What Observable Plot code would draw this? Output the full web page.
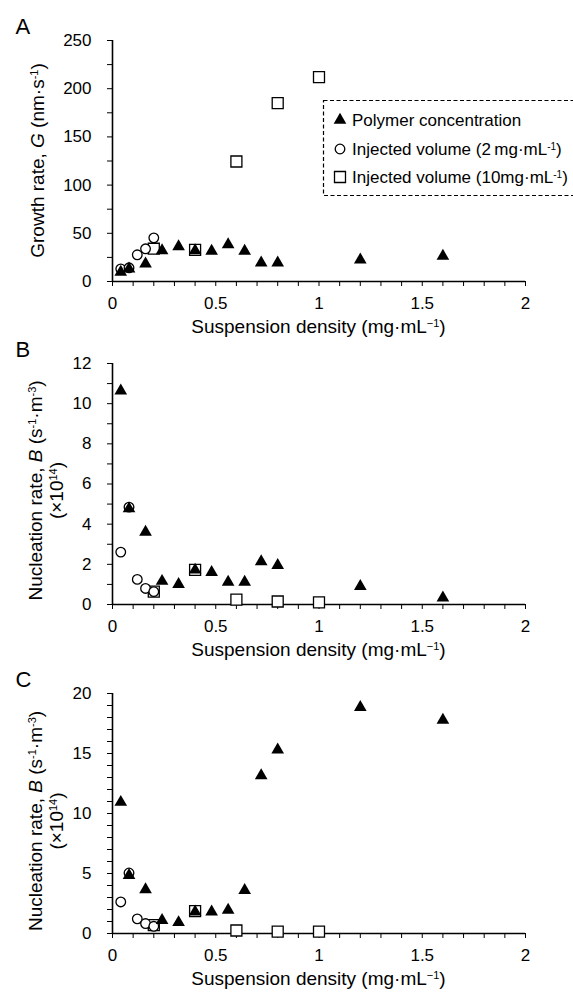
<!DOCTYPE html>
<html><head><meta charset="utf-8">
<script src="https://cdn.jsdelivr.net/npm/d3@7"></script>
<script src="https://cdn.jsdelivr.net/npm/@observablehq/plot@0.6"></script>
<style>
body{margin:0;background:#fff;font-family:"Liberation Sans",Arial,sans-serif;}
#wrap{position:relative;width:573px;height:999px;overflow:hidden;background:#fff;}
#wrap svg{position:absolute;left:0;overflow:visible;}
</style></head><body><div id="wrap"></div>
<script>
// ---------- data ----------
const polymerX   = [0.04, 0.08, 0.16, 0.24, 0.32, 0.4, 0.48, 0.56, 0.64, 0.72, 0.8, 1.2, 1.6];
const injected2X = [0.04, 0.08, 0.12, 0.16, 0.2];
const injected10X = [0.2, 0.4, 0.6, 0.8, 1.0];

const growthPolymer = [9.7, 13.1, 18.3, 32, 36.3, 32, 31.5, 38.4, 31.5, 19.4, 19.4, 22.5, 26.3];
const growthInj2    = [13.1, 14.2, 27.7, 33.9, 45.3];
const growthInj10   = [34, 32.8, 124.5, 185, 212];

const nucBPolymer = [10.64, 4.77, 3.61, 1.16, 1.0, 1.72, 1.6, 1.12, 1.12, 2.14, 1.95, 0.91, 0.33];
const nucBInj2    = [2.61, 4.85, 1.25, 0.8, 0.64];
const nucBInj10   = [0.64, 1.72, 0.24, 0.15, 0.11];

const nucCPolymer = [10.94, 4.85, 3.66, 1.1, 0.92, 1.8, 1.8, 1.96, 3.6, 13.16, 15.3, 18.84, 17.78];
const nucCInj2    = [2.63, 5.04, 1.22, 0.83, 0.6];
const nucCInj10   = [0.7, 1.86, 0.25, 0.15, 0.15];

const xTickLabels = [0, 0.5, 1, 1.5, 2];
const yTickLabelsA = [0, 50, 100, 150, 200, 250];
const yTickLabelsB = [0, 2, 4, 6, 8, 10, 12];
const yTickLabelsC = [0, 5, 10, 15, 20];
const legendLabels = ["Polymer concentration", "Injected volume (2\u2009mg\u00b7mL", "Injected volume (10mg\u00b7mL"];

// ---------- helpers ----------
const FONT = "Liberation Sans, Arial, Helvetica, sans-serif";
const rows = (xs, ys) => xs.map((x, i) => ({x, y: ys[i]}));
const near = (arr, d) => arr.some(v => Math.abs(v - d) < 1e-9);
const xMinor = d3.range(0, 21).map(i => i / 10);

function richText(sel, parts, size) {
  parts.forEach(p => {
    const t = sel.append("tspan").text(p.t);
    if (p.i) t.attr("font-style", "italic");
    if (p.sup) t.attr("baseline-shift", "super").attr("font-size", Math.round(size * 0.6));
  });
}

function panel(cfg) {
  const {top, H, mt, mb, yMax, yMinorStep, yLabels, poly, inj2, inj10, letter} = cfg;
  const yMinor = d3.range(0, Math.round(yMax / yMinorStep) + 1).map(i => i * yMinorStep);
  const chart = Plot.plot({
    width: 573, height: H,
    marginLeft: 112, marginRight: 48, marginTop: mt, marginBottom: mb,
    style: {fontFamily: FONT, fontSize: "17px", color: "#000", background: "transparent", overflow: "visible"},
    x: {domain: [0, 2]},
    y: {domain: [0, yMax]},
    marks: [
      Plot.axisX({ticks: xMinor, tickSize: 5, tickPadding: 10, label: null,
        tickFormat: d => near(xTickLabels, d) ? String(+d.toFixed(1)) : ""}),
      Plot.axisY({ticks: yMinor, tickSize: 5, tickPadding: 16, label: null,
        tickFormat: d => near(yLabels, d) ? String(d) : ""}),
      Plot.ruleY([0], {stroke: "#000", strokeWidth: 1.6}),
      Plot.ruleX([0], {stroke: "#000", strokeWidth: 1.6}),
      Plot.dot(rows(injected10X, inj10), {x: "x", y: "y", symbol: "square", r: 6.2, fill: "white", stroke: "black", strokeWidth: 1.3}),
      Plot.dot(rows(injected2X, inj2), {x: "x", y: "y", symbol: "circle", r: 4.8, fill: "white", stroke: "black", strokeWidth: 1.3}),
      Plot.dot(rows(polymerX, poly), {x: "x", y: "y", symbol: "triangle", r: 4.7, fill: "black", stroke: "none"}),
      Plot.text([letter], {frameAnchor: "top-left", dx: -97, dy: -7, textAnchor: "start", lineAnchor: "bottom", fontSize: 22})
    ]
  });
  chart.style.top = top + "px";
  document.getElementById("wrap").appendChild(chart);
  const svg = d3.select(chart);
  const fb = H - mb;
  // x title
  const xt = svg.append("text").attr("x", (112 + 525) / 2).attr("y", fb + 52)
    .attr("text-anchor", "middle").attr("font-size", 19).attr("font-family", FONT);
  richText(xt, [{t: "Suspension density (mg\u00b7mL"}, {t: "\u22121", sup: true}, {t: ")"}], 19);
  // y title
  const cy = (mt + fb) / 2 + (cfg.yTitleShift || 0);
  cfg.yTitle.forEach((line, k) => {
    const t = svg.append("text")
      .attr("transform", `translate(${cfg.yTitleX[k]},${cy}) rotate(-90)`)
      .attr("text-anchor", "middle").attr("font-size", 19).attr("font-family", FONT);
    richText(t, line, 19);
  });
  return svg;
}

const svgA = panel({top: 0, H: 345, mt: 40, mb: 64, yMax: 250, yMinorStep: 25, yLabels: yTickLabelsA,
  poly: growthPolymer, inj2: growthInj2, inj10: growthInj10, letter: "A",
  yTitleX: [44], yTitle: [[{t: "Growth rate, "}, {t: "G", i: true}, {t: " (nm\u00b7s"}, {t: "-1", sup: true}, {t: ")"}]]});

panel({top: 330, H: 330, mt: 33, mb: 56, yMax: 12, yMinorStep: 1, yLabels: yTickLabelsB,
  poly: nucBPolymer, inj2: nucBInj2, inj10: nucBInj10, letter: "B", yTitleShift: 7,
  yTitleX: [42, 63], yTitle: [
    [{t: "Nucleation rate, "}, {t: "B", i: true}, {t: " (s"}, {t: "-1", sup: true}, {t: "\u00b7m"}, {t: "-3", sup: true}, {t: ")"}],
    [{t: "(\u00d710"}, {t: "14", sup: true}, {t: ")"}]]});

panel({top: 660, H: 339, mt: 33, mb: 66, yMax: 20, yMinorStep: 1, yLabels: yTickLabelsC,
  poly: nucCPolymer, inj2: nucCInj2, inj10: nucCInj10, letter: "C", yTitleShift: 8,
  yTitleX: [42, 63], yTitle: [
    [{t: "Nucleation rate, "}, {t: "B", i: true}, {t: " (s"}, {t: "-1", sup: true}, {t: "\u00b7m"}, {t: "-3", sup: true}, {t: ")"}],
    [{t: "(\u00d710"}, {t: "14", sup: true}, {t: ")"}]]});

// ---------- legend (panel A) ----------
const lg = svgA.append("g").attr("font-family", FONT).attr("font-size", 17).attr("text-anchor", "start");
lg.append("rect").attr("x", 323.5).attr("y", 100.5).attr("width", 270).attr("height", 95)
  .attr("fill", "white").attr("stroke", "black").attr("stroke-width", 1.2).attr("stroke-dasharray", "4,2.5");
const legSyms = [
  {type: d3.symbolTriangle, r: 4.7, fill: "black", stroke: "none"},
  {type: d3.symbolCircle, r: 4.8, fill: "white", stroke: "black"},
  {type: d3.symbolSquare, r: 6.2, fill: "white", stroke: "black"}
];
const legY = [120, 149, 177];
const legSup = [null, "-1", "-1"];
legendLabels.forEach((lab, i) => {
  const s = legSyms[i];
  lg.append("path").attr("transform", `translate(340,${legY[i]})`)
    .attr("d", d3.symbol(s.type, Math.PI * s.r * s.r)())
    .attr("fill", s.fill).attr("stroke", s.stroke).attr("stroke-width", 1.3);
  const t = lg.append("text").attr("x", 352).attr("y", legY[i] + 6).attr("text-anchor", "start");
  const parts = [{t: lab}];
  if (legSup[i]) { parts.push({t: legSup[i], sup: true}); parts.push({t: ")"}); }
  richText(t, parts, 17);
});
</script></body></html>
